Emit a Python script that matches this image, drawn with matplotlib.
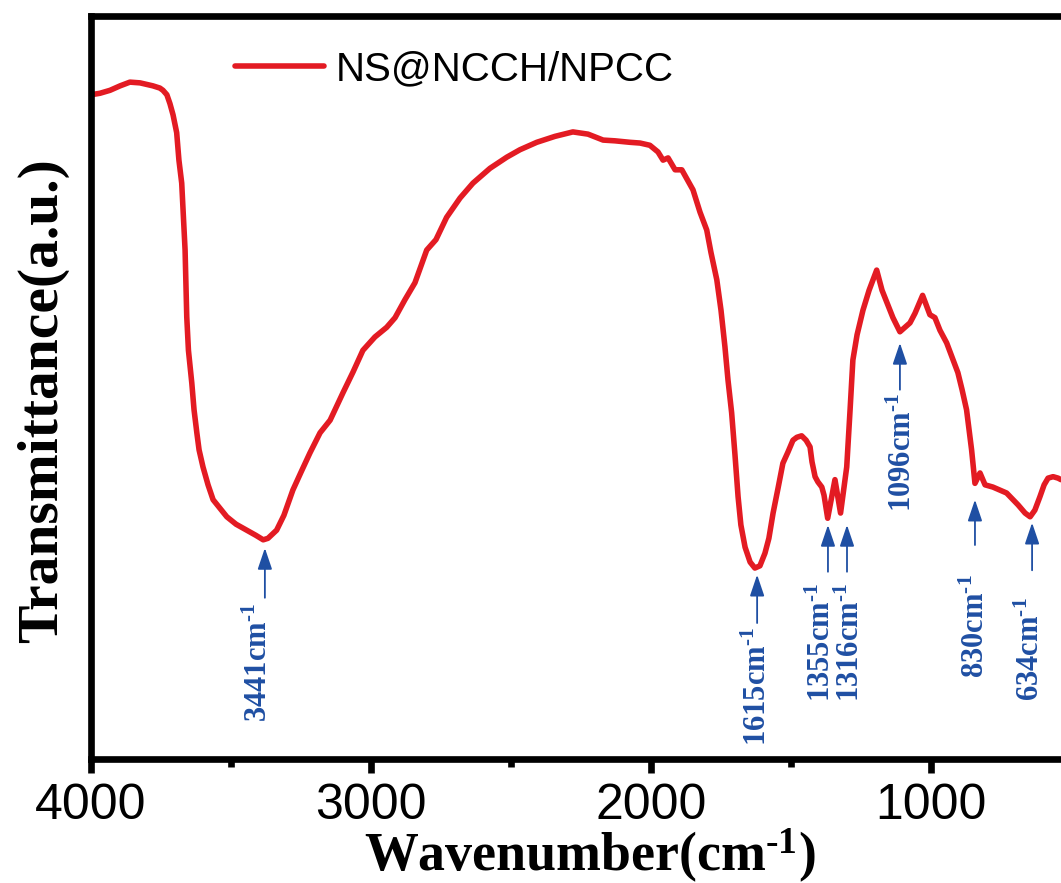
import matplotlib
matplotlib.use("Agg")
import matplotlib.pyplot as plt

# ---------------- data ----------------
wavenumber = [4000, 3968, 3932, 3896, 3861, 3825, 3779, 3754, 3743, 3729,
              3718, 3707, 3694, 3686, 3676, 3664, 3658, 3652, 3640, 3632,
              3622, 3614, 3600, 3582, 3564, 3515, 3482, 3444, 3411, 3385,
              3368, 3337, 3311, 3279, 3250, 3218, 3182, 3146, 3100, 3064,
              3029, 2986, 2944, 2914, 2879, 2843, 2801, 2768, 2730, 2682,
              2636, 2575, 2515, 2468, 2408, 2343, 2279, 2225, 2171, 2129,
              2075, 2039, 2004, 1975, 1957, 1939, 1914, 1890, 1850, 1825,
              1801, 1786, 1765, 1750, 1736, 1725, 1712, 1700, 1689, 1679,
              1664, 1646, 1629, 1611, 1593, 1579, 1564, 1546, 1529, 1511,
              1493, 1479, 1462, 1446, 1432, 1425, 1414, 1404, 1390, 1382,
              1369, 1343, 1323, 1301, 1289, 1279, 1264, 1243, 1221, 1194,
              1175, 1154, 1136, 1111, 1075, 1057, 1030, 1004, 986, 968,
              944, 925, 904, 889, 873, 864, 855, 843, 825, 807,
              779, 730, 689, 664, 646, 629, 611, 596, 582, 564,
              546, 536, 500]
transmittance = [89.4, 89.6, 90.0, 90.6, 91.1, 91.0, 90.6, 90.3, 90.0, 89.4,
                 88.2, 86.7, 84.3, 80.6, 77.5, 68.5, 59.5, 55.0, 50.6, 47.0,
                 43.9, 41.6, 39.3, 36.9, 34.9, 32.6, 31.6, 30.8, 30.1, 29.5,
                 29.7, 30.8, 32.8, 36.2, 38.6, 41.2, 43.9, 45.6, 49.3, 52.1,
                 55.0, 56.8, 58.1, 59.4, 61.8, 64.1, 68.5, 69.9, 72.9, 75.5,
                 77.5, 79.5, 81.0, 82.0, 83.0, 83.8, 84.4, 84.1, 83.3, 83.2,
                 83.0, 82.9, 82.6, 81.7, 80.6, 80.9, 79.3, 79.3, 76.6, 73.6,
                 71.2, 68.2, 64.5, 60.4, 55.5, 51.0, 46.6, 40.9, 35.3, 31.5,
                 28.5, 26.5, 25.7, 26.0, 27.7, 29.7, 33.1, 36.5, 39.8, 41.3,
                 42.9, 43.3, 43.5, 42.9, 42.0, 40.0, 38.0, 37.3, 36.6, 35.5,
                 32.4, 37.6, 33.1, 39.3, 47.0, 53.7, 57.1, 60.4, 63.1, 65.8,
                 63.1, 61.1, 59.4, 57.5, 58.7, 60.0, 62.4, 59.8, 59.4, 57.7,
                 56.0, 54.1, 52.0, 49.7, 47.0, 44.3, 41.6, 37.1, 38.5, 36.9,
                 36.6, 35.8, 34.2, 33.1, 32.6, 33.5, 35.3, 36.9, 37.8, 38.0,
                 37.8, 37.6, 37.6]
series_name = "NS@NCCH/NPCC"

# peak annotations: label, arrow position, arrow tip, arrow tail, text top, text x
peak_labels = ["3441", "1615", "1355", "1316", "1096", "830", "634"]
peak_x = [3379, 1621, 1368, 1300, 1111, 843, 639]
peak_tip = [28.4, 24.8, 31.5, 31.5, 56.0, 34.9, 31.8]
peak_tail = [21.7, 18.3, 25.2, 25.2, 49.7, 28.8, 25.4]
label_top = [21.0, 17.8, 23.7, 23.7, 49.3, 24.8, 21.8]
label_x = [3400, 1618, 1389, 1286, 1100, 838, 642]

x_ticks = [4000, 3000, 2000, 1000]
x_minor = [3500, 2500, 1500]

# ---------------- styling ----------------
plt.rcParams['mathtext.fontset'] = 'custom'
plt.rcParams['mathtext.rm'] = 'Liberation Serif:bold'
plt.rcParams['mathtext.bf'] = 'Liberation Serif:bold'
plt.rcParams['mathtext.it'] = 'Liberation Serif:bold'

W, H = 1061, 883
fig = plt.figure(figsize=(W / 100, H / 100), dpi=100)
ax = fig.add_axes([91 / W, (H - 759) / H, 980 / W, 743 / H])

red = '#e31b23'
blue = '#1f4fa3'

ax.plot(wavenumber, transmittance, color=red, lw=4.0, solid_joinstyle='round',
        solid_capstyle='round', label=series_name)
ax.set_xlim(4000, 500)
ax.set_ylim(0, 100)

for s in ax.spines.values():
    s.set_linewidth(4.8)
ax.spines['right'].set_visible(False)

ax.set_xticks(x_ticks)
ax.set_xticks(x_minor, minor=True)
ax.set_xticklabels([str(t) for t in x_ticks], fontsize=36, family='Liberation Sans')
ax.tick_params(axis='x', which='major', direction='out', length=10, width=4.8, pad=7)
ax.tick_params(axis='x', which='minor', direction='out', length=6, width=4.8)
ax.set_yticks([])

for lab, x, tip, tail, ttop, tx in zip(peak_labels, peak_x, peak_tip, peak_tail,
                                        label_top, label_x):
    ax.annotate('', xy=(x, tip), xytext=(x, tail),
                arrowprops=dict(arrowstyle='-|>,head_length=0.65,head_width=0.22',
                                color=blue, lw=1.3, mutation_scale=20,
                                shrinkA=0, shrinkB=0))
    ax.text(tx, ttop, lab + r'cm$^{\text{-1}}$', rotation=90, ha='center', va='top',
            fontsize=22, family='Liberation Serif', fontweight='bold', color=blue)

leg = ax.legend(loc='center left', bbox_to_anchor=((235 - 91) / 980, (759 - 69) / 743),
                frameon=False, borderpad=0, borderaxespad=0, handlelength=2.2,
                handletextpad=0.3, prop={'family': 'Liberation Sans', 'size': 29})

fig.text(590 / W, 12 / H, r'Wavenumber(cm$^{\text{-1}}$)', ha='center', va='baseline',
         fontsize=38.8, family='Liberation Serif', fontweight='bold')
fig.text(43 / W, 1 - 401 / H, 'Transmittance(a.u.)', rotation=90, ha='center',
         va='center', fontsize=41.5, family='Liberation Serif', fontweight='bold')

fig.savefig('out.png', dpi=100)
